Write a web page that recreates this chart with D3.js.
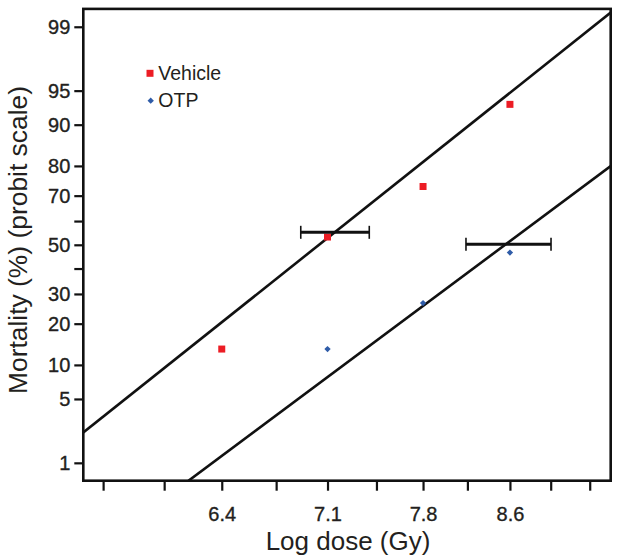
<!DOCTYPE html>
<html><head><meta charset="utf-8">
<script src="https://cdn.jsdelivr.net/npm/d3@7"></script>
<style>body{margin:0;background:#fff}svg{display:block}</style>
</head><body>
<svg id="c" width="621" height="559"></svg>
<script>
// ---- data ----
const vehicleDose = [6.4, 7.133, 7.867, 8.6];
const vehicleMortality = [13.3, 53.3, 73.3, 93.3];
const otpDose = [7.133, 7.867, 8.6];
const otpMortality = [13.3, 26.7, 46.7];
const vehicleFitDose = [5.553, 9.536];
const vehicleFitMortality = [2.26, 99.34];
const otpFitDose = [6.185, 9.536];
const otpFitMortality = [0.59, 79.95];
const vehicleCIDose = [6.94, 7.445];
const vehicleCIMortality = 55.3;
const otpCIDose = [8.221, 8.97];
const otpCIMortality = 50.2;
const xTickValues = [5.667, 6.033, 6.4, 6.767, 7.133, 7.5, 7.867, 8.233, 8.6, 8.967, 9.333];
const xTickLabels = ["", "", "6.4", "", "7.1", "", "7.8", "", "8.6", "", ""];
const yTickValues = [1, 5, 10, 20, 30, 40, 50, 60, 70, 80, 90, 95, 99];
const yTickLabels = ["1", "5", "10", "20", "30", "", "50", "", "70", "80", "90", "95", "99"];
const seriesNames = ["Vehicle", "OTP"];
const seriesColors = ["#ec1c24", "#2f5ca8"];

// inverse normal CDF (Acklam)
function probit(p) {
  const a=[-3.969683028665376e+01,2.209460984245205e+02,-2.759285104469687e+02,1.383577518672690e+02,-3.066479806614716e+01,2.506628277459239e+00];
  const b=[-5.447609879822406e+01,1.615858368580409e+02,-1.556989798598866e+02,6.680131188771972e+01,-1.328068155288572e+01];
  const c=[-7.784894002430293e-03,-3.223964580411365e-01,-2.400758277161838e+00,-2.549732539343734e+00,4.374664141464968e+00,2.938163982698783e+00];
  const d=[7.784695709041462e-03,3.224671290700398e-01,2.445134137142996e+00,3.754408661907416e+00];
  const pl=0.02425, ph=1-pl; let q,r;
  if (p<pl){q=Math.sqrt(-2*Math.log(p));return (((((c[0]*q+c[1])*q+c[2])*q+c[3])*q+c[4])*q+c[5])/((((d[0]*q+d[1])*q+d[2])*q+d[3])*q+1);}
  if (p<=ph){q=p-0.5;r=q*q;return (((((a[0]*r+a[1])*r+a[2])*r+a[3])*r+a[4])*r+a[5])*q/(((((b[0]*r+b[1])*r+b[2])*r+b[3])*r+b[4])*r+1);}
  q=Math.sqrt(-2*Math.log(1-p));return -(((((c[0]*q+c[1])*q+c[2])*q+c[3])*q+c[4])*q+c[5])/((((d[0]*q+d[1])*q+d[2])*q+d[3])*q+1);
}

const L = 83.3, R = 610.7, T = 8.9, B = 480.7;
const svg = d3.select("#c");
const font = "'Liberation Sans', Arial, Helvetica, sans-serif";

const x = d3.scaleLog().domain([5.553, 9.536]).range([L, R]);
const y = d3.scaleLinear().domain([-2.517, 2.517]).range([B, T]);
const Y = p => y(probit(p / 100));

// axes
const xAxis = d3.axisBottom(x).tickValues(xTickValues)
  .tickFormat((d, i) => xTickLabels[i]).tickSize(10).tickPadding(16);
const gx = svg.append("g").attr("transform", `translate(0,${B})`).call(xAxis);
const yAxis = d3.axisLeft(y).tickValues(yTickValues.map(p => probit(p / 100)))
  .tickFormat((d, i) => yTickLabels[i]).tickSize(9).tickPadding(4);
const gy = svg.append("g").attr("transform", `translate(${L},0)`).call(yAxis);
[gx, gy].forEach(g => {
  g.attr("font-size", 20).attr("font-family", font);
  g.select(".domain").remove();
  g.selectAll(".tick line").attr("stroke", "#111").attr("stroke-width", 2.2);
  g.selectAll(".tick text").attr("fill", "#231f20").attr("font-size", 20).attr("font-family", font)
    .attr("stroke", "#231f20").attr("stroke-width", 0.35);
});
gx.selectAll(".tick text").attr("dy", "0.71em");

// fit lines
svg.append("clipPath").attr("id", "pc").append("rect")
  .attr("x", L).attr("y", T).attr("width", R - L).attr("height", B - T);
const line = d3.line().x(d => x(d[0])).y(d => Y(d[1]));
svg.append("path").datum(vehicleFitDose.map((d, i) => [d, vehicleFitMortality[i]]))
  .attr("d", line).attr("fill", "none").attr("stroke", "#111").attr("stroke-width", 2.6)
  .attr("clip-path", "url(#pc)");
svg.append("path").datum(otpFitDose.map((d, i) => [d, otpFitMortality[i]]))
  .attr("d", line).attr("fill", "none").attr("stroke", "#111").attr("stroke-width", 2.6)
  .attr("clip-path", "url(#pc)");

// points
const sq = d3.symbol().type(d3.symbolSquare).size(49);
const di = d3.symbol().type(d3.symbolSquare).size(20);
svg.selectAll(".veh").data(vehicleDose.map((d, i) => [d, vehicleMortality[i]])).join("path")
  .attr("d", sq).attr("fill", seriesColors[0])
  .attr("transform", d => `translate(${x(d[0])},${Y(d[1])})`);
svg.selectAll(".otp").data(otpDose.map((d, i) => [d, otpMortality[i]])).join("path")
  .attr("d", di).attr("fill", seriesColors[1])
  .attr("transform", d => `translate(${x(d[0])},${Y(d[1])}) rotate(45)`);

// confidence bars
function ciBar(dd, m, cap) {
  const g = svg.append("g").attr("stroke", "#111");
  const yy = Y(m);
  g.append("line").attr("x1", x(dd[0])).attr("x2", x(dd[1])).attr("y1", yy).attr("y2", yy).attr("stroke-width", 3);
  dd.forEach(v => g.append("line").attr("x1", x(v)).attr("x2", x(v)).attr("y1", yy - cap).attr("y2", yy + cap).attr("stroke-width", 1.6));
}
ciBar(vehicleCIDose, vehicleCIMortality, 6.5);
ciBar(otpCIDose, otpCIMortality, 6.5);

// frame
svg.append("rect").attr("x", L).attr("y", T).attr("width", R - L).attr("height", B - T)
  .attr("fill", "none").attr("stroke", "#111").attr("stroke-width", 2.6);

// legend
const lg = svg.append("g");
lg.append("path").attr("d", sq).attr("fill", seriesColors[0]).attr("transform", "translate(150,73.3)");
lg.append("path").attr("d", di).attr("fill", seriesColors[1]).attr("transform", "translate(150.7,100.7) rotate(45)");
lg.selectAll("text").data(seriesNames).join("text")
  .attr("x", 158.3).attr("y", (d, i) => 80 + i * 27.3)
  .text(d => d).attr("fill", "#231f20")
  .attr("font-family", font).attr("font-size", 19.5);

// titles
svg.append("text").attr("x", 348).attr("y", 550).attr("text-anchor", "middle")
  .text("Log dose (Gy)").attr("fill", "#231f20").attr("font-family", font).attr("font-size", 26);
svg.append("text").attr("transform", "translate(27,240) rotate(-90)").attr("text-anchor", "middle")
  .text("Mortality (%) (probit scale)").attr("fill", "#231f20").attr("font-family", font).attr("font-size", 26.4);
</script>
</body></html>
